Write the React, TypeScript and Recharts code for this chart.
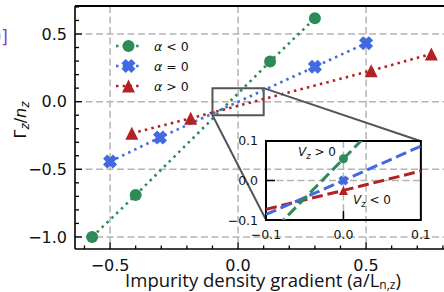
import React from 'react';
import { LineChart, Line, XAxis, YAxis, CartesianGrid, ReferenceLine, ReferenceArea } from 'recharts';

// ---- data ----
const negX = [-0.57, -0.40, 0.125, 0.30];
const negY = [-1.0, -0.69, 0.296, 0.616];
const zeroX = [-0.5, -0.305, 0.3, 0.5];
const zeroY = [-0.443, -0.265, 0.258, 0.432];
const posX = [-0.415, -0.185, 0.52, 0.755];
const posY = [-0.234, -0.123, 0.229, 0.353];

const insetXs = [-0.1, 0.0, 0.1];
const insetNegY = [-0.145, 0.055, 0.255];
const insetZeroY = [-0.086, 0.0, 0.087];
const insetPosY = [-0.073, -0.025, 0.024];

const xTicks = [-0.6, -0.5, -0.4, -0.3, -0.2, -0.1, 0.0, 0.1, 0.2, 0.3, 0.4, 0.5, 0.6, 0.7, 0.8];
const yTicks = [-1.0, -0.9, -0.8, -0.7, -0.6, -0.5, -0.4, -0.3, -0.2, -0.1, 0.0, 0.1, 0.2, 0.3, 0.4, 0.5, 0.6, 0.7];
const xMajor = [-0.5, 0.0, 0.5];
const yMajor = [-1.0, -0.5, 0.0, 0.5];
const insetTicks = [-0.1, 0.0, 0.1];
const legendLabels = ['<', '=', '>'];

// ---- layout ----
const X_DOMAIN = [-0.637, 0.82];
const Y_DOMAIN = [-1.089, 0.707];
const PLOT = { left: 75, top: 6, width: 373, height: 243 };
const PLOT_BOTTOM = PLOT.top + PLOT.height;
const INSET_X = [0.11, 0.715];
const INSET_Y = [-0.877, -0.293];

const GREEN = '#2e8b57';
const BLUE = '#4169e1';
const RED = '#b22222';
const GRID = '#b4b4b4';

const mx = (v: number) => PLOT.left + ((v - X_DOMAIN[0]) / (X_DOMAIN[1] - X_DOMAIN[0])) * PLOT.width;
const my = (v: number) => PLOT.top + ((Y_DOMAIN[1] - v) / (Y_DOMAIN[1] - Y_DOMAIN[0])) * PLOT.height;

const zip = (xs: number[], ys: number[]) => xs.map((x, i) => ({ x, y: ys[i] }));
const negData = zip(negX, negY);
const zeroData = zip(zeroX, zeroY);
const posData = zip(posX, posY);
const insetNeg = zip(insetXs, insetNegY);
const insetZero = zip(insetXs, insetZeroY);
const insetPos = zip(insetXs, insetPosY);

const fmt = (v: number) => (Math.abs(v) < 1e-9 ? '0.0' : v.toFixed(1).replace('-', '\u2212'));
const isIn = (arr: number[], v: number) => arr.some((m) => Math.abs(m - v) < 1e-6);

const FONT = 'DejaVu Sans, sans-serif';

const XShape = ({ cx, cy, s, fill }: any) => {
  const L = s / 2;
  const w = s * 0.21;
  const pts = [
    [-w, -L], [w, -L], [w, -w], [L, -w], [L, w], [w, w],
    [w, L], [-w, L], [-w, w], [-L, w], [-L, -w], [-w, -w],
  ];
  const c = Math.SQRT1_2;
  const d = pts.map(([x, y]) => `${cx + (x - y) * c},${cy + (x + y) * c}`).join(' ');
  return <polygon points={d} fill={fill} />;
};
const Tri = ({ cx, cy, s, fill }: any) => {
  const h = s / 2;
  return <polygon points={`${cx},${cy - h} ${cx - h},${cy + h} ${cx + h},${cy + h}`} fill={fill} />;
};

const XTick = (props: any) => {
  const { x, payload } = props;
  const y = PLOT_BOTTOM;
  const v = payload.value;
  const major = isIn(xMajor, v);
  return (
    <g>
      <line x1={x} x2={x} y1={y} y2={y - (major ? 6.5 : 3.5)} stroke="#000" strokeWidth={1.3} />
      {major && (
        <text x={x} y={y + 22} textAnchor="middle" fontSize={16} fontFamily={FONT} fill="#111">
          {fmt(v)}
        </text>
      )}
    </g>
  );
};
const YTick = (props: any) => {
  const { y, payload } = props;
  const x = PLOT.left;
  const v = payload.value;
  const major = isIn(yMajor, v);
  return (
    <g>
      <line x1={x} x2={x + (major ? 7 : 4)} y1={y} y2={y} stroke="#000" strokeWidth={1.3} />
      {major && (
        <text x={x - 8} y={y + 5.8} textAnchor="end" fontSize={16} fontFamily={FONT} fill="#111">
          {fmt(v)}
        </text>
      )}
    </g>
  );
};

const I_YW = 44;
const I_XH = 26;
const I_MT = 10;
const I_MR = 16;

const makeIXTick = (bottom: number) => (props: any) => {
  const { x, payload } = props;
  const y = bottom;
  const v = payload.value;
  return (
    <g>
      {Math.abs(v) < 1e-9 && <line x1={x} x2={x} y1={y} y2={y - 9} stroke="#000" strokeWidth={1.5} />}
      <text x={x} y={y + 19} textAnchor="middle" fontSize={12.5} fontFamily={FONT} fill="#111">
        {fmt(v)}
      </text>
    </g>
  );
};
const IYTick = (props: any) => {
  const { y, payload } = props;
  const x = I_YW;
  const v = payload.value;
  return (
    <g>
      {Math.abs(v) < 1e-9 && <line x1={x} x2={x + 9} y1={y} y2={y} stroke="#000" strokeWidth={1.5} />}
      <text x={x - 8} y={y + 4.5} textAnchor="end" fontSize={12.5} fontFamily={FONT} fill="#111">
        {fmt(v)}
      </text>
    </g>
  );
};

const dotCircle = (r: number, only0 = false) => (p: any) => {
  if (only0 && Math.abs(p.payload.x) > 1e-9) return <g key={p.index} />;
  return <circle key={p.index} cx={p.cx} cy={p.cy} r={r} fill={GREEN} />;
};
const dotX = (s: number, only0 = false) => (p: any) => {
  if (only0 && Math.abs(p.payload.x) > 1e-9) return <g key={p.index} />;
  return <XShape key={p.index} cx={p.cx} cy={p.cy} s={s} fill={BLUE} />;
};
const dotTri = (s: number, only0 = false) => (p: any) => {
  if (only0 && Math.abs(p.payload.x) > 1e-9) return <g key={p.index} />;
  return <Tri key={p.index} cx={p.cx} cy={p.cy} s={s} fill={RED} />;
};

const DOTTED = '2.5 4.2';
const DASHED = '11 4.8';

export default function App() {
  const iLeft = mx(INSET_X[0]);
  const iRight = mx(INSET_X[1]);
  const iTop = my(INSET_Y[1]);
  const iBottom = my(INSET_Y[0]);
  const iPlotH = iBottom - iTop;
  const IXTick = makeIXTick(I_MT + iPlotH);

  const legendColors = [GREEN, BLUE, RED];
  const legendY = [46, 66, 86];

  return (
    <div style={{ position: 'absolute', left: 0, top: 0, width: 444, height: 292, overflow: 'hidden', background: '#fff' }}>
      <div style={{ position: 'absolute', left: 0, top: 0 }}>
        <LineChart width={460} height={292} margin={{ top: PLOT.top, right: 460 - PLOT.left - PLOT.width, left: PLOT.left - 45, bottom: 292 - PLOT.top - PLOT.height - 30 }}>
          <CartesianGrid
            horizontal
            vertical
            horizontalValues={yMajor}
            verticalValues={xMajor}
            stroke={GRID}
            strokeWidth={1.5}
            strokeDasharray="7 3.5"
          />
          <XAxis
            dataKey="x"
            type="number"
            domain={X_DOMAIN}
            allowDataOverflow
            ticks={xTicks}
            interval={0}
            tickSize={0}
            tickMargin={0}
            height={30}
            axisLine={{ stroke: '#000', strokeWidth: 1.6 }}
            tick={(p: any) => <XTick {...p} />}
          />
          <YAxis
            type="number"
            domain={Y_DOMAIN}
            allowDataOverflow
            ticks={yTicks}
            interval={0}
            tickSize={0}
            tickMargin={0}
            width={45}
            axisLine={{ stroke: '#000', strokeWidth: 1.6 }}
            tick={(p: any) => <YTick {...p} />}
          />
          <ReferenceLine y={Y_DOMAIN[1]} stroke="#000" strokeWidth={1.8} />
          <ReferenceLine x={X_DOMAIN[1]} stroke="#000" strokeWidth={1.8} />
          <Line data={posData} dataKey="y" stroke={RED} strokeWidth={2.6} strokeDasharray={DOTTED} dot={dotTri(13)} isAnimationActive={false} />
          <Line data={zeroData} dataKey="y" stroke={BLUE} strokeWidth={2.6} strokeDasharray={DOTTED} dot={dotX(14)} isAnimationActive={false} />
          <Line data={negData} dataKey="y" stroke={GREEN} strokeWidth={2.6} strokeDasharray={DOTTED} dot={dotCircle(6)} isAnimationActive={false} />
          <ReferenceArea x1={-0.1} x2={0.1} y1={-0.1} y2={0.1} fill="none" fillOpacity={0} stroke="#555" strokeWidth={2} />
          <ReferenceLine segment={[{ x: 0.1, y: 0.1 }, { x: INSET_X[1], y: INSET_Y[1] }]} stroke="#555" strokeWidth={2} ifOverflow="visible" />
          <ReferenceLine segment={[{ x: -0.1, y: -0.1 }, { x: INSET_X[0], y: INSET_Y[0] }]} stroke="#555" strokeWidth={2} ifOverflow="visible" />
        </LineChart>
      </div>

      <div style={{ position: 'absolute', left: iLeft - I_YW, top: iTop - I_MT }}>
        <LineChart
          width={iRight - iLeft + I_YW + I_MR}
          height={iPlotH + I_MT + I_XH}
          margin={{ top: I_MT, right: I_MR, left: 0, bottom: 0 }}
        >
          <CartesianGrid horizontalValues={[0]} verticalValues={[0]} stroke={GRID} strokeWidth={1.5} strokeDasharray="7 3.5" />
          <XAxis
            dataKey="x"
            type="number"
            domain={[-0.1, 0.1]}
            allowDataOverflow
            ticks={insetTicks}
            interval={0}
            tickSize={0}
            tickMargin={0}
            height={I_XH}
            axisLine={false}
            tick={(p: any) => <IXTick {...p} />}
          />
          <YAxis
            type="number"
            domain={[-0.1, 0.1]}
            allowDataOverflow
            ticks={insetTicks}
            interval={0}
            tickSize={0}
            tickMargin={0}
            width={I_YW}
            axisLine={false}
            tick={(p: any) => <IYTick {...p} />}
          />
          <Line data={insetPos} dataKey="y" stroke={RED} strokeWidth={3} strokeDasharray={DASHED} dot={dotTri(9, true)} isAnimationActive={false} />
          <Line data={insetZero} dataKey="y" stroke={BLUE} strokeWidth={3} strokeDasharray={DASHED} dot={dotX(10, true)} isAnimationActive={false} />
          <Line data={insetNeg} dataKey="y" stroke={GREEN} strokeWidth={3} strokeDasharray={DASHED} dot={dotCircle(4.5, true)} isAnimationActive={false} />
          <ReferenceArea x1={-0.1} x2={0.1} y1={-0.1} y2={0.1} fill="none" fillOpacity={0} stroke="#000" strokeWidth={2} />
        </LineChart>
      </div>

      <svg width={444} height={292} style={{ position: 'absolute', left: 0, top: 0, pointerEvents: 'none' }}>
        {/* legend */}
        {legendLabels.map((op, i) => (
          <g key={op}>
            <line x1={116} x2={141} y1={legendY[i]} y2={legendY[i]} stroke={legendColors[i]} strokeWidth={2.6} strokeDasharray={DOTTED} />
            {i === 0 && <circle cx={128.5} cy={legendY[i]} r={6} fill={GREEN} />}
            {i === 1 && <XShape cx={128.5} cy={legendY[i]} s={14} fill={BLUE} />}
            {i === 2 && <Tri cx={128.5} cy={legendY[i]} s={13} fill={RED} />}
            <text x={154} y={legendY[i] + 4.5} fontSize={12.5} fontFamily={FONT} fill="#111">
              <tspan fontStyle="italic">α</tspan>
              <tspan> {op} 0</tspan>
            </text>
          </g>
        ))}
        {/* inset annotations */}
        <text x={298} y={156} fontSize={12} fontFamily={FONT} fill="#111">
          <tspan fontStyle="italic">V</tspan>
          <tspan fontSize={8.5} fontStyle="italic" dy={2.5}>z</tspan>
          <tspan dy={-2.5}> &gt; 0</tspan>
        </text>
        <text x={353} y={204} fontSize={12} fontFamily={FONT} fill="#111">
          <tspan fontStyle="italic">V</tspan>
          <tspan fontSize={8.5} fontStyle="italic" dy={2.5}>z</tspan>
          <tspan dy={-2.5}> &lt; 0</tspan>
        </text>
        {/* axis labels */}
        <text transform="translate(26,120) rotate(-90)" textAnchor="middle" fontSize={16} fontFamily={FONT} fill="#111">
          <tspan>Γ</tspan>
          <tspan fontStyle="italic" fontSize={12} dy={3}>z</tspan>
          <tspan dy={-3}>/</tspan>
          <tspan fontStyle="italic">n</tspan>
          <tspan fontStyle="italic" fontSize={12} dy={3}>z</tspan>
        </text>
        <text x={263} y={287} textAnchor="middle" fontSize={18.5} fontFamily="Open Sans, sans-serif" fill="#111">
          <tspan>Impurity density gradient (a/L</tspan>
          <tspan fontSize={12} dy={1.5}>n,z</tspan>
          <tspan dy={-1.5}>)</tspan>
        </text>
        {/* clipped panel tag from the neighbouring figure */}
        <text x={8} y={43} textAnchor="end" fontSize={17} fontFamily={FONT} fill="#7b3fc4">0]</text>
      </svg>
    </div>
  );
}
